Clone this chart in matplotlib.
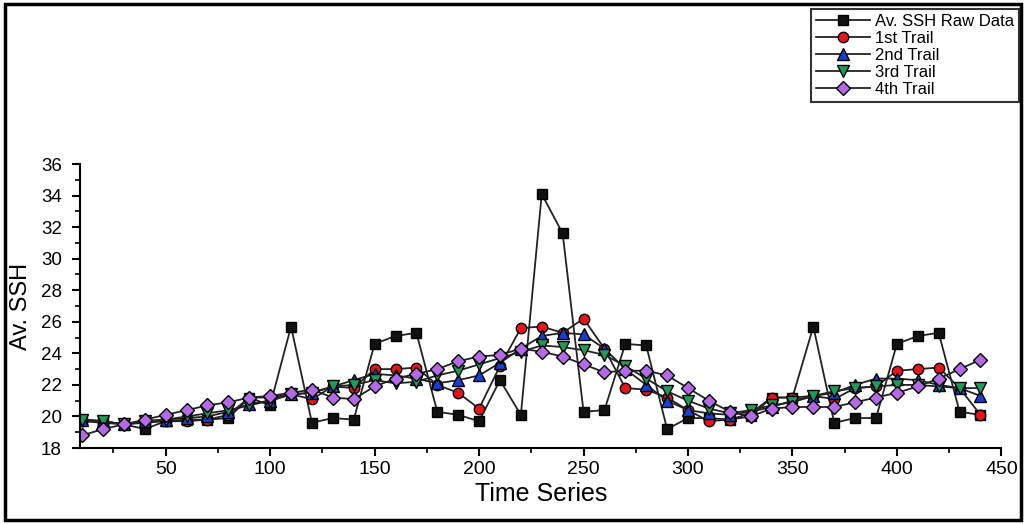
import numpy as np
import matplotlib
matplotlib.use("Agg")
import matplotlib.pyplot as plt
from matplotlib.patches import Rectangle
from matplotlib.ticker import MultipleLocator

plt.rcParams['font.family'] = ['Liberation Sans', 'DejaVu Sans']

# time axis: one sample every 10 steps
time = np.arange(10, 450, 10)

raw = [19.8, 19.7, 19.5, 19.2, 19.7, 19.8, 19.8, 19.9, 21.2, 20.7,
       25.7, 19.6, 19.9, 19.8, 24.6, 25.1, 25.3, 20.3, 20.1, 19.7,
       22.3, 20.1, 34.1, 31.6, 20.3, 20.4, 24.6, 24.5, 19.2, 19.9,
       19.9, 19.8, 20.0, 21.2, 21.2, 25.7, 19.6, 19.9, 19.9, 24.6,
       25.1, 25.3, 20.3, 20.1]
trail1 = [19.7, 19.6, 19.5, 19.6, 19.7, 19.7, 19.8, 20.1, 21.2, 21.2,
          21.4, 21.1, 21.9, 21.8, 23.0, 23.0, 23.1, 22.0, 21.5, 20.5,
          23.2, 25.6, 25.7, 25.3, 26.2, 24.3, 21.8, 21.7, 21.2, 20.4,
          19.7, 19.8, 20.2, 21.2, 21.2, 21.3, 21.1, 21.8, 21.9, 22.9,
          23.0, 23.1, 21.8, 20.1]
trail2 = [19.8, 19.7, 19.5, 19.7, 19.8, 19.9, 20.0, 20.3, 20.8, 21.0,
          21.4, 21.5, 21.9, 22.3, 22.7, 22.6, 22.4, 22.1, 22.3, 22.6,
          23.4, 24.3, 25.1, 25.3, 25.2, 24.3, 23.0, 22.0, 21.0, 20.4,
          20.2, 20.1, 20.3, 20.6, 21.0, 21.3, 21.5, 22.0, 22.4, 22.4,
          22.3, 22.0, 21.8, 21.3]
trail3 = [19.8, 19.7, 19.5, 19.7, 19.8, 20.0, 20.2, 20.4, 20.7, 21.0,
          21.4, 21.5, 21.9, 22.0, 22.3, 22.1, 22.2, 22.6, 22.9, 23.3,
          23.7, 24.1, 24.5, 24.4, 24.2, 23.9, 23.2, 22.4, 21.6, 21.0,
          20.5, 20.2, 20.4, 20.7, 20.9, 21.3, 21.6, 21.8, 21.9, 22.0,
          22.0, 21.9, 21.8, 21.8]
trail4 = [18.8, 19.2, 19.5, 19.8, 20.1, 20.4, 20.7, 20.9, 21.2, 21.3,
          21.5, 21.7, 21.2, 21.1, 21.9, 22.4, 22.7, 23.0, 23.5, 23.8,
          23.9, 24.3, 24.1, 23.8, 23.3, 22.8, 22.9, 22.9, 22.6, 21.8,
          21.0, 20.3, 20.0, 20.5, 20.6, 20.6, 20.6, 20.9, 21.2, 21.5,
          21.9, 22.4, 23.0, 23.6]

labels = ["Av. SSH Raw Data", "1st Trail", "2nd Trail", "3rd Trail", "4th Trail"]
series = [raw, trail1, trail2, trail3, trail4]
markers = ["s", "o", "^", "v", "D"]
faces = ["#111111", "#e8141c", "#1a3fd0", "#1e9a5a", "#b469e6"]
sizes = [7, 7.5, 8, 8, 7]

fig = plt.figure(figsize=(10.26, 5.24), dpi=100)
ax = fig.add_axes([0.078, 0.145, 0.898, 0.542])

handles = []
for ys, m, fc, ms, lab in zip(series, markers, faces, sizes, labels):
    h, = ax.plot(time, ys, color="#222222", lw=1.3, marker=m, ms=ms,
                 mfc=fc, mec="black", mew=1.0, label=lab)
    handles.append(h)

ax.set_xlim(9, 450)
ax.set_ylim(18, 36)
ax.xaxis.set_major_locator(MultipleLocator(50))
ax.xaxis.set_minor_locator(MultipleLocator(25))
ax.yaxis.set_major_locator(MultipleLocator(2))
ax.yaxis.set_minor_locator(MultipleLocator(1))
ax.set_xticks(np.arange(50, 451, 50))

for s in ["top", "right"]:
    ax.spines[s].set_visible(False)
for s in ["left", "bottom"]:
    ax.spines[s].set_linewidth(1.5)

ax.tick_params(which="major", direction="out", length=6, width=1.5, labelsize=14)
ax.tick_params(which="minor", direction="out", length=3.5, width=1.2)
ax.tick_params(axis="y", which="major", labelsize=13.5, pad=7)

ax.set_xlabel("Time Series", fontsize=18, labelpad=3)
ax.set_ylabel("Av. SSH", fontsize=17)
ax.yaxis.set_label_coords(-0.052, 0.5)

leg = fig.legend(handles=handles, loc="upper right", bbox_to_anchor=(0.993, 0.983),
                 fontsize=12, frameon=True, fancybox=False, handlelength=3.2,
                 handletextpad=0.3, labelspacing=0.12, borderpad=0.3,
                 borderaxespad=0.0)
leg.get_frame().set_edgecolor("black")
leg.get_frame().set_linewidth(1.5)

# outer frame around the whole picture
fig.patches.append(Rectangle((0.005, 0.008), 0.99, 0.984, transform=fig.transFigure,
                             fill=False, edgecolor="black", linewidth=2.5))

fig.savefig("out.png", dpi=100)
